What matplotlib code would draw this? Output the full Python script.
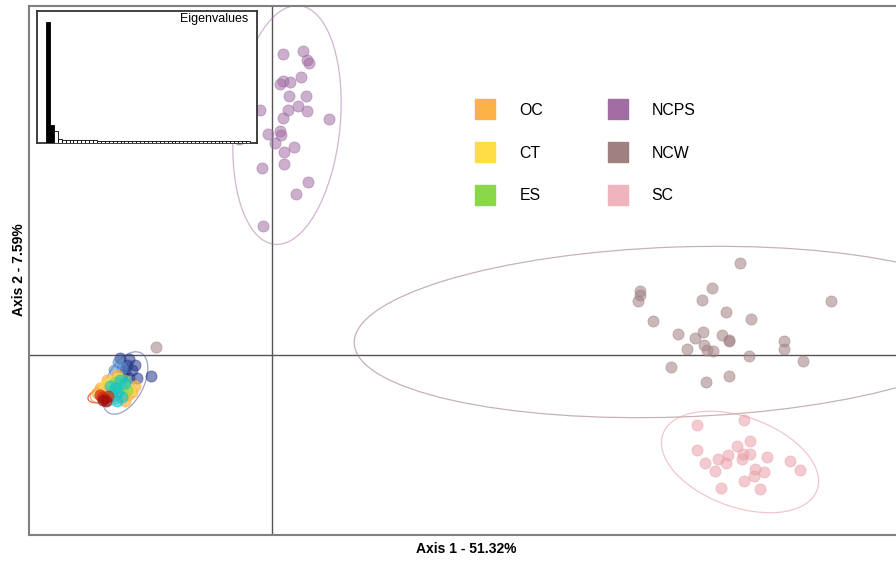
import matplotlib
matplotlib.use("Agg")
import matplotlib.pyplot as plt
from matplotlib.patches import Ellipse
from matplotlib.lines import Line2D
import numpy as np

plt.rcParams['font.family'] = ['Liberation Sans', 'DejaVu Sans']

# ---------------- data ----------------
ncps_x = [0.21, 0.61, 0.69, 0.74, 0.21, 0.16, 0.36, 0.58, 0.34, 0.67, -0.25, 0.31, 0.51, 0.70,
          0.22, 1.13, -0.09, 0.16, 0.17, 0.06, 0.23, 0.43, -0.21, 0.24, 0.71, 0.47, -0.19, -0.66]
ncps_y = [6.02, 6.07, 5.90, 5.83, 5.47, 5.42, 5.45, 5.55, 5.17, 5.17, 4.90, 4.90, 4.97, 4.88,
          4.73, 4.71, 4.42, 4.47, 4.40, 4.23, 4.06, 4.15, 3.73, 3.81, 3.45, 3.22, 2.57, 4.32]

ncw_x = [9.36, 7.35, 7.35, 7.31, 8.79, 8.60, 11.18, 9.08, 9.57, 7.61, 8.11, 8.62, 8.46, 8.99,
         9.14, 9.13, 10.24, 10.24, 8.30, 8.63, 8.69, 8.81, 9.54, 10.61, 7.97, 9.13, 8.68, -2.33]
ncw_y = [1.83, 1.27, 1.20, 1.08, 1.33, 1.10, 1.08, 0.85, 0.71, 0.68, 0.41, 0.46, 0.33, 0.40,
         0.27, 0.29, 0.28, 0.11, 0.12, 0.19, 0.10, 0.07, -0.02, -0.13, -0.24, -0.43, -0.55, 0.15]

sc_x = [8.49, 9.44, 9.55, 8.49, 9.29, 9.11, 9.41, 9.56, 9.39, 9.89, 8.66, 8.91, 9.08, 10.35,
        8.85, 9.65, 9.83, 9.64, 10.56, 9.44, 8.97, 9.76]
sc_y = [-1.40, -1.31, -1.72, -1.90, -1.83, -2.00, -1.98, -1.98, -2.09, -2.05, -2.17, -2.09, -2.17, -2.13,
        -2.32, -2.29, -2.35, -2.42, -2.31, -2.52, -2.67, -2.69]

oc_x = [-3.30, -2.88, -2.80, -3.28, -3.44, -2.74, -3.50, -3.10, -2.95]
oc_y = [-0.50, -0.80, -0.74, -0.70, -0.66, -0.62, -0.76, -0.40, -0.92]
ct_x = [-3.24, -3.18, -2.94, -3.34, -3.08, -2.85]
ct_y = [-0.54, -0.60, -0.64, -0.60, -0.46, -0.70]
es_x = [-3.08, -3.00, -3.14, -2.90, -3.20, -2.96]
es_y = [-0.60, -0.66, -0.54, -0.70, -0.72, -0.50]

navy_x = [-3.04, -2.87, -2.91, -2.74, -2.94, -2.81, -2.71, -2.42, -2.87, -3.00]
navy_y = [-0.07, -0.08, -0.20, -0.20, -0.30, -0.30, -0.47, -0.43, -0.47, -0.40]
blue_x = [-3.08, -3.16, -3.00]
blue_y = [-0.14, -0.30, -0.26]
cyan_x = [-3.14, -3.08, -3.20, -3.00, -3.24, -2.94, -3.04, -3.10]
cyan_y = [-0.66, -0.74, -0.80, -0.84, -0.62, -0.56, -0.50, -0.92]
red_x = [-3.40, -3.34, -3.44, -3.28]
red_y = [-0.84, -0.86, -0.80, -0.82]
dred_x = [-3.38, -3.32]
dred_y = [-0.90, -0.92]

# ellipses: (cx, cy, major, minor, angle of major axis)
ell_ncps = (0.30, 4.60, 4.80, 2.12, 84)
ell_ncw = (8.12, 0.46, 12.96, 3.40, 2)
ell_sc = (9.36, -2.14, 3.28, 1.80, -20)
ell_navy = (-2.94, -0.56, 1.36, 0.74, 62)
ell_cyan = (-3.10, -0.76, 0.74, 0.38, 28)
ell_red = (-3.38, -0.80, 0.62, 0.28, 15)
ell_oc = (-3.28, -0.74, 0.74, 0.38, 20)
ell_dred = (-3.20, -0.78, 0.38, 0.32, 0)

eigenvalues = [51.32, 7.59, 5.0, 1.55, 1.25, 1.20, 1.17, 1.15, 1.13, 1.11, 1.10, 1.08, 1.07, 1.06,
               1.05, 1.04, 1.03, 1.02, 1.01, 1.00, 0.99, 0.98, 0.97, 0.96, 0.95, 0.94, 0.93, 0.92,
               0.91, 0.90, 0.89, 0.88, 0.87, 0.86, 0.85, 0.84, 0.83, 0.82, 0.81, 0.80, 0.79, 0.78,
               0.77, 0.76, 0.75, 0.74, 0.73, 0.72, 0.71, 0.70, 0.69, 0.68]
n_axes_kept = 2

legend_labels = ['OC', 'CT', 'ES', 'NCPS', 'NCW', 'SC']
legend_colors = ['#FDB247', '#FEDC45', '#8AD84A', '#A16DA3', '#A18082', '#EFB4BC']

xlabel = 'Axis 1 - 51.32%'
ylabel = 'Axis 2 - 7.59%'

# ---------------- figure ----------------
W, H = 896, 561
ax_w_px = 867 + 9
fig = plt.figure(figsize=(W / 100, H / 100), dpi=100)
ax = fig.add_axes([29 / W, 1 - 535 / H, ax_w_px / W, 529 / H])
ax.set_xlim(-4.86, -4.86 + ax_w_px / 50)
ax.set_ylim(-3.6, 6.98)
ax.set_xticks([])
ax.set_yticks([])
for s in ['left', 'top', 'bottom']:
    ax.spines[s].set_color('#808080')
    ax.spines[s].set_linewidth(1.5)
ax.spines['right'].set_visible(False)

ax.axhline(0, color='#555555', lw=1.0, zorder=1)
ax.axvline(0, color='#555555', lw=1.0, zorder=1)

def pts(x, y, c, a=0.55):
    ax.scatter(x, y, s=64, color=c, alpha=a, edgecolors=c, linewidths=0.6, zorder=3)

def ell(p, c, a=0.55, lw=0.9):
    cx, cy, w, h, ang = p
    ax.add_patch(Ellipse((cx, cy), w, h, angle=ang, fill=False, edgecolor=c, alpha=a, lw=lw, zorder=2))

pts(ncps_x, ncps_y, legend_colors[3])
pts(ncw_x, ncw_y, legend_colors[4])
pts(sc_x, sc_y, '#EA9FA9', 0.55)
pts(navy_x, navy_y, '#22358A', 0.55)
pts(blue_x, blue_y, '#4F86C8', 0.55)
pts(oc_x, oc_y, legend_colors[0], 0.7)
pts(ct_x, ct_y, legend_colors[1], 0.7)
pts(es_x, es_y, legend_colors[2], 0.6)
pts(cyan_x, cyan_y, '#12C4CE', 0.6)
pts(red_x, red_y, '#D42A0C', 0.65)
pts(dred_x, dred_y, '#9E0E0E', 0.65)

ell(ell_ncps, legend_colors[3], 0.5)
ell(ell_ncw, legend_colors[4], 0.6)
ell(ell_sc, '#E8A0AA', 0.6)
ell(ell_navy, '#5466A8', 0.6)
ell(ell_cyan, '#12C4CE', 0.7)
ell(ell_red, '#E0401C', 0.8)
ell(ell_oc, '#F08A30', 0.7)
ell(ell_dred, '#A04020', 0.7)

ax.set_xlabel(xlabel, fontsize=10, fontweight='bold')
ax.set_ylabel(ylabel, fontsize=10, fontweight='bold')
ax.xaxis.set_label_coords((466 - 29) / ax_w_px, -7 / 529)
ax.yaxis.set_label_coords(-3 / ax_w_px, (535 - 270) / 529)

handles = [Line2D([], [], linestyle='none', marker='s', markersize=14.4,
                  markerfacecolor=c, markeredgecolor=c) for c in legend_colors]
leg = fig.legend(handles, legend_labels, ncol=2, loc='upper left',
                 bbox_to_anchor=(475 / W, 1 - 103 / H), frameon=False,
                 prop={'size': 11.4}, handlelength=1.3, handletextpad=1.5,
                 labelspacing=1.74, columnspacing=4.05, borderpad=0, borderaxespad=0)

# inset eigenvalues
ins = fig.add_axes([37 / W, 1 - 143 / H, 220 / W, 132 / H])
ins.set_facecolor('white')
idx = np.arange(len(eigenvalues))
cols = ['black' if i < n_axes_kept else 'white' for i in idx]
ins.bar(idx, eigenvalues, width=1.0, color=cols, edgecolor='black', linewidth=0.6, zorder=3)
ins.set_xlim(-2.8, len(eigenvalues) + 1.3)
ins.set_ylim(0, 51.32 * 132 / 121)
ins.set_xticks([])
ins.set_yticks([])
for s in ins.spines.values():
    s.set_color('#333333')
    s.set_linewidth(1.3)
ins.text(0.96, 0.985, 'Eigenvalues', transform=ins.transAxes, ha='right', va='top', fontsize=9)

fig.savefig('out.png', dpi=100)
